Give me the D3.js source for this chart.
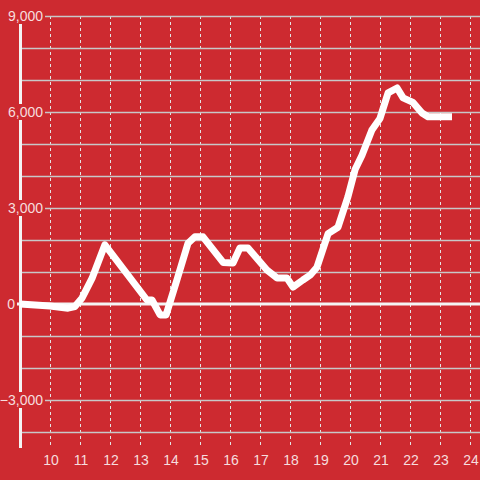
<!DOCTYPE html>
<html>
<head>
<meta charset="utf-8">
<script src="https://cdn.jsdelivr.net/npm/d3@7"></script>
<style>
  body { margin: 0; background: #cd2a30; }
  svg { display: block; font-family: "Liberation Sans", Arial, sans-serif; }
</style>
</head>
<body>
<script>
//data: hour of day and value
var hours = [9.0, 10.0, 10.6, 10.83, 11.07, 11.4, 11.83, 13.23, 13.4, 13.67, 13.87, 14.23, 14.6, 14.83, 15.1,
             15.77, 16.1, 16.33, 16.6, 17.23, 17.57, 17.9, 18.1, 18.43, 18.67, 18.9, 19.27, 19.6, 19.93,
             20.17, 20.4, 20.73, 21.0, 21.27, 21.57, 21.77, 22.1, 22.4, 22.6, 23.4];
var values = [0, -60, -130, -80, 190, 800, 1850, 125, 125, -340, -340, 750, 1900, 2100, 2100,
              1300, 1280, 1750, 1750, 1060, 810, 810, 530, 750, 900, 1150, 2200, 2400, 3350,
              4200, 4650, 5440, 5800, 6600, 6750, 6440, 6300, 5970, 5850, 5850];

var xTicks = [10, 11, 12, 13, 14, 15, 16, 17, 18, 19, 20, 21, 22, 23, 24];
var yGrid = [-4000, -3000, -2000, -1000, 1000, 2000, 3000, 4000, 5000, 6000, 7000, 8000, 9000];
var yLabels = [9000, 6000, 3000, -3000];

(function(){

var width = 480, height = 480;
var bg = "#cd2a30";

var svg = d3.select("body").append("svg")
    .attr("width", width)
    .attr("height", height);

svg.append("rect").attr("width", width).attr("height", height).attr("fill", bg);

var x = d3.scaleLinear().domain([9, 24]).range([20, 470]);
var y = d3.scaleLinear().domain([-4500, 9000]).range([448, 16]);

//vertical dashed grid
svg.selectAll(".vgrid")
    .data(xTicks)
    .enter().append("line")
    .attr("class", "vgrid")
    .attr("x1", d => x(d) + 0.5).attr("x2", d => x(d) + 0.5)
    .attr("y1", y(9000)).attr("y2", 448)
    .attr("stroke", "#e4e4e4")
    .attr("stroke-width", 1)
    .attr("stroke-dasharray", "3,3");

//horizontal grid
svg.selectAll(".hgrid")
    .data(yGrid)
    .enter().append("line")
    .attr("class", "hgrid")
    .attr("x1", 20).attr("x2", width)
    .attr("y1", d => Math.round(y(d)) + 0.5).attr("y2", d => Math.round(y(d)) + 0.5)
    .attr("stroke", "#c8c8c8")
    .attr("stroke-width", 1.5);

//y axis line
svg.append("line")
    .attr("x1", 20.5).attr("x2", 20.5)
    .attr("y1", 8).attr("y2", 448)
    .attr("stroke", "#f4f4f4")
    .attr("stroke-width", 3);

//zero line
svg.append("line")
    .attr("x1", 17).attr("x2", width)
    .attr("y1", y(0)).attr("y2", y(0))
    .attr("stroke", "#f4f4f4")
    .attr("stroke-width", 3);

//y labels with a patch behind them
var fmt = d3.format(",");
var yl = svg.selectAll(".ylab")
    .data(yLabels)
    .enter().append("g")
    .attr("class", "ylab")
    .attr("transform", d => "translate(0," + y(d) + ")");
yl.append("rect")
    .attr("x", 0).attr("y", -8).attr("width", 45).attr("height", 16)
    .attr("fill", bg);
yl.append("text")
    .attr("x", 43).attr("dy", "0.35em")
    .attr("text-anchor", "end")
    .attr("font-size", 14)
    .attr("fill", "rgba(255,255,255,0.85)")
    .text(d => fmt(d));

svg.append("text")
    .attr("x", 15).attr("y", y(0)).attr("dy", "0.35em")
    .attr("text-anchor", "end")
    .attr("font-size", 14)
    .attr("fill", "rgba(255,255,255,0.85)")
    .text("0");

//x labels
svg.selectAll(".xlab")
    .data(xTicks)
    .enter().append("text")
    .attr("class", "xlab")
    .attr("x", d => x(d) + 1)
    .attr("y", 465)
    .attr("text-anchor", "middle")
    .attr("font-size", 14)
    .attr("fill", "rgba(255,255,255,0.85)")
    .text(d => d);

//the series
var pts = hours.map((h, i) => [h, values[i]]);
var line = d3.line().x(d => x(d[0])).y(d => y(d[1]));
svg.append("path")
    .datum(pts)
    .attr("d", line)
    .attr("fill", "none")
    .attr("stroke", "#ffffff")
    .attr("stroke-width", 7)
    .attr("stroke-linejoin", "round");

})();
</script>
</body>
</html>
